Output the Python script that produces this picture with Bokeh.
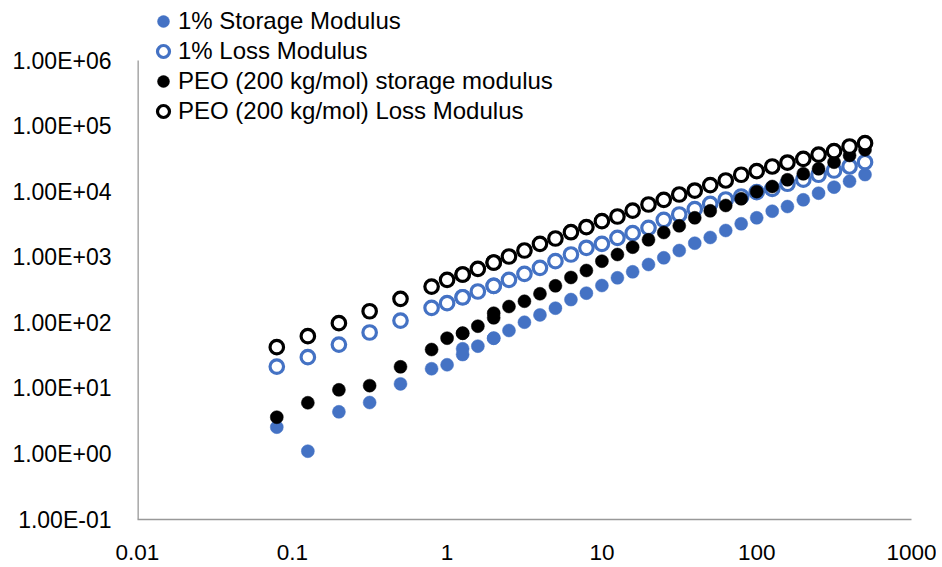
from bokeh.plotting import figure
from bokeh.models import Range1d, FixedTicker, Legend, LegendItem, ColumnDataSource, Arrow
from bokeh.embed import file_html
from bokeh.resources import INLINE

# ---- data ----
freq = [0.0794, 0.126, 0.2, 0.316, 0.5, 0.794, 1.0, 1.26, 1.26, 1.58, 2.0, 2.0,
        2.51, 3.16, 3.98, 5.01, 6.31, 7.94, 10.0, 12.6, 15.8, 20.0, 25.1, 31.6,
        39.8, 50.1, 63.1, 79.4, 100.0, 126.0, 158.0, 200.0, 251.0, 316.0, 398.0, 501.0]

storage_1pct = [2.56, 1.10, 4.39, 6.08, 11.7, 19.9, 22.9, 40.1, 32.8, 44.0, 58.2, 58.2,
                76.3, 102, 132, 167, 226, 283, 370, 485, 599, 774, 980, 1265,
                1636, 2000, 2555, 3235, 3990, 5030, 5930, 7510, 9470, 11700, 14400, 18200]

loss_1pct = [21.5, 29.9, 46.6, 71.1, 108, 169, 199, 245, 245, 300, 366, 366,
             452, 558, 689, 869, 1100, 1393, 1600, 1977, 2323, 2810, 3720, 4480,
             5400, 6530, 7590, 8430, 9800, 11000, 13200, 15200, 18100, 21000, 24200, 28100]

storage_peo = [3.63, 6.03, 9.5, 11.0, 21.3, 39.1, 58.2, 69.3, 69.3, 88.7, 140, 119,
               177, 213, 277, 366, 491, 627, 869, 1100, 1422, 1844, 2382, 3012,
               3990, 5100, 6150, 7780, 10000, 11970, 15160, 18700, 22300, 28100, 35600, 43500]

loss_peo = [42.4, 62.4, 98.6, 150, 232, 357, 452, 545, 545, 665, 830, 830,
            1026, 1265, 1600, 1930, 2405, 2870, 3540, 4180, 5150, 6370, 7510, 9040,
            10400, 12600, 14800, 18100, 20500, 24200, 27800, 31700, 36800, 41400, 48800, 54800]

series_names = ["1% Storage Modulus", "1% Loss Modulus",
                "PEO (200 kg/mol) storage modulus", "PEO (200 kg/mol) Loss Modulus"]

x_ticks = [0.01, 0.1, 1, 10, 100, 1000]
x_tick_labels = ["0.01", "0.1", "1", "10", "100", "1000"]
y_ticks = [0.1, 1, 10, 100, 1000, 10000, 100000, 1000000]
y_tick_labels = ["1.00E-01", "1.00E+00", "1.00E+01", "1.00E+02",
                 "1.00E+03", "1.00E+04", "1.00E+05", "1.00E+06"]

BLUE = "#4472C4"
AXIS_GRAY = "#999999"
FONT = "Liberation Sans"

# The plot frame extends above the last y tick so the legend (which sits
# partly above the axis top) is not clipped; the y axis line is drawn only
# up to the last tick, as in the reference.
DECADE_PX = 65.57
EXTRA_TOP_PX = 60
y_top = y_ticks[-1] * 10 ** (EXTRA_TOP_PX / DECADE_PX)

p = figure(
    output_backend="svg", toolbar_location=None,
    x_axis_type="log", y_axis_type="log",
    x_range=Range1d(x_ticks[0], x_ticks[-1]), y_range=Range1d(y_ticks[0], y_top),
    frame_width=774, frame_height=519,
    min_border_left=137, min_border_right=25, min_border_top=0, min_border_bottom=46,
)
p.outline_line_color = None
p.background_fill_color = "white"
p.border_fill_color = "white"
p.xgrid.visible = False
p.ygrid.visible = False

src = ColumnDataSource(dict(x=freq, s1=storage_1pct, l1=loss_1pct, sp=storage_peo, lp=loss_peo))

r1 = p.scatter("x", "s1", source=src, size=13, fill_color=BLUE, line_color=BLUE, line_width=0.5)
r2 = p.scatter("x", "l1", source=src, size=13.5, fill_color="white", line_color=BLUE, line_width=3.2)
r3 = p.scatter("x", "sp", source=src, size=13, fill_color="black", line_color="black", line_width=0.5)
r4 = p.scatter("x", "lp", source=src, size=13.5, fill_color="white", line_color="black", line_width=3.2)

for ax, ticks, labels in ((p.xaxis[0], x_ticks, x_tick_labels), (p.yaxis[0], y_ticks, y_tick_labels)):
    ax.ticker = FixedTicker(ticks=ticks, minor_ticks=[])
    ax.major_label_overrides = {t: l for t, l in zip(ticks, labels)}
    ax.major_tick_line_color = None
    ax.minor_tick_line_color = None
    ax.axis_line_color = AXIS_GRAY
    ax.axis_line_width = 1.3
    ax.major_label_text_font = FONT
    ax.major_label_text_color = "black"

p.xaxis[0].major_label_text_font_size = "22.5px"
p.yaxis[0].major_label_text_font_size = "23px"
p.yaxis[0].major_label_standoff = 20
p.xaxis[0].major_label_standoff = 19

# y axis line: only from the first to the last tick
p.yaxis[0].axis_line_color = None
p.add_layout(Arrow(x_start=x_ticks[0], y_start=y_ticks[0], x_end=x_ticks[0], y_end=y_ticks[-1],
                   start=None, end=None, line_color=AXIS_GRAY, line_width=2.6))

legend = Legend(
    items=[LegendItem(label=n, renderers=[r]) for n, r in zip(series_names, (r1, r2, r3, r4))],
    location=(11, 393),
    padding=0, margin=0, spacing=0,
    glyph_width=30, glyph_height=30, label_height=30,
    label_standoff=0,
    label_text_font=FONT, label_text_font_size="24px", label_text_color="black",
    border_line_color=None, background_fill_alpha=0,
)
p.add_layout(legend, "center")

open("out.html", "w").write(file_html(p, INLINE))
